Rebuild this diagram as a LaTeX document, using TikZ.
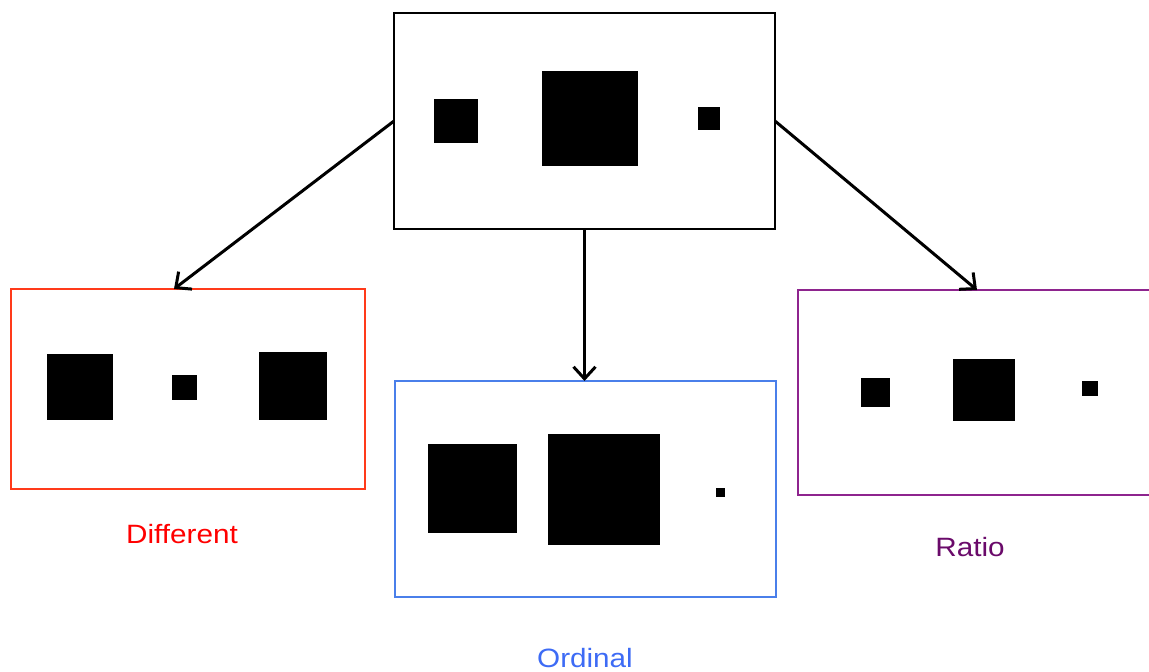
\documentclass[tikz,border=0pt]{standalone}
\usepackage{fontspec}
\setmainfont{Liberation Sans}
\usetikzlibrary{arrows.meta}
\definecolor{diffred}{HTML}{FF3A1A}
\definecolor{difftext}{HTML}{FF0000}
\definecolor{ordblue}{HTML}{4A7FEA}
\definecolor{ordtext}{HTML}{3D6BF5}
\definecolor{ratpurple}{HTML}{8E248E}
\definecolor{rattext}{HTML}{6A0A6A}
\tikzset{
  panel/.style={draw, line width=1.5pt},
  sq/.style={fill=black, draw=none},
  link/.style={draw, line width=3pt, -{Straight Barb[length=12pt, width=22pt, line width=3pt]}},
  caption/.style={font=\fontsize{26.5}{30}\selectfont, inner sep=0pt}
}
\newcommand{\wide}[1]{\scalebox{1.12}[1]{#1}}
\begin{document}
\begin{tikzpicture}[x=1pt, y=-1pt]
  \useasboundingbox (0,0) rectangle (1149,672);
  % source panel
  \draw[panel] (394,13) rectangle (775,229);
  \coordinate (srcL) at (394,121);
  \coordinate (srcB) at (584.5,229);
  \coordinate (srcR) at (775,121);
  \fill[sq] (434,99) rectangle (478,143);
  \fill[sq] (542,71) rectangle (638,166);
  \fill[sq] (698,107) rectangle (720,130);
  % "Different" panel
  \draw[panel, diffred] (11,289) rectangle (365,489);
  \coordinate (diffT) at (174,289);
  \fill[sq] (47,354) rectangle (113,420);
  \fill[sq] (172,375) rectangle (197,400);
  \fill[sq] (259,352) rectangle (327,420);
  \node[caption, text=difftext] (diffLbl) at (182,534) {\wide{Different}};
  % "Ordinal" panel
  \draw[panel, ordblue] (395,381) rectangle (776,597);
  \coordinate (ordT) at (584.5,381);
  \fill[sq] (428,444) rectangle (517,533);
  \fill[sq] (548,434) rectangle (660,545);
  \fill[sq] (716,488) rectangle (725,497);
  \node[caption, text=ordtext] (ordLbl) at (585,658) {\wide{Ordinal}};
  % "Ratio" panel (runs past the right edge)
  \draw[panel, ratpurple] (1160,290) -- (798,290) -- (798,495) -- (1160,495);
  \coordinate (ratT) at (977,290);
  \fill[sq] (861,378) rectangle (890,407);
  \fill[sq] (953,359) rectangle (1015,421);
  \fill[sq] (1082,381) rectangle (1098,396);
  \node[caption, text=rattext] (ratLbl) at (970,547) {\wide{Ratio}};
  % connectors
  \draw[link] (srcL) -- (diffT);
  \draw[link] (srcB) -- (ordT);
  \draw[link] (srcR) -- (ratT);
\end{tikzpicture}
\end{document}
